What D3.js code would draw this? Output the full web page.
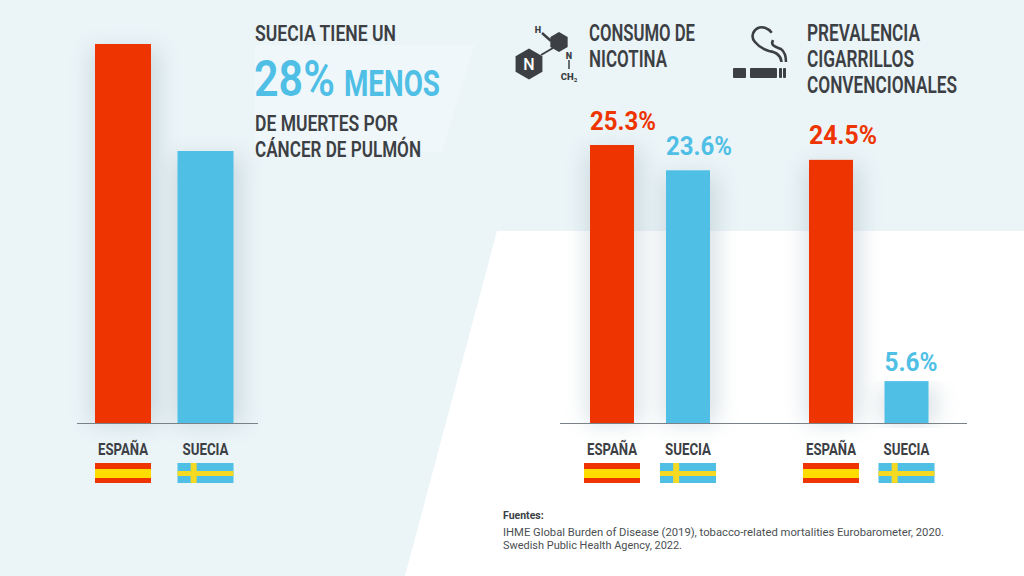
<!DOCTYPE html>
<html><head><meta charset="utf-8">
<script src="https://cdn.jsdelivr.net/npm/d3@7"></script>
<style>html,body{margin:0;padding:0;background:#ebf4f7}svg{display:block}
text{font-family:"Roboto","Liberation Sans",sans-serif}</style></head><body>
<svg id="c" width="1024" height="576"></svg>
<script>
const countries=["ESPAÑA","SUECIA"];
const lungIndex=[100,71.8];
const nicotineShown=[25.3,23.0];
const cigaretteShown=[23.95,3.85];
const nicotineLabels=["25.3%","23.6%"];
const cigaretteLabels=["24.5%","5.6%"];
const headingLung=["SUECIA TIENE UN","DE MUERTES POR","CÁNCER DE PULMÓN"];
const headingNic=["CONSUMO DE","NICOTINA"];
const headingCig=["PREVALENCIA","CIGARRILLOS","CONVENCIONALES"];
const sources=["IHME Global Burden of Disease (2019), tobacco-related mortalities Eurobarometer, 2020.","Swedish Public Health Agency, 2022."];
const RED="#ee3400",BLUE="#4fbfe6",DARK="#3c4044";
const colors=[RED,BLUE];
const svg=d3.select("#c");
const defs=svg.append("defs");
const blur=defs.append("filter").attr("id","sh").attr("x","-60%").attr("y","-15%").attr("width","220%").attr("height","125%");
blur.append("feGaussianBlur").attr("stdDeviation",11);
svg.append("rect").attr("width",1024).attr("height",576).attr("fill","#ebf4f7");
svg.append("path").attr("d","M255 45H474L442 152H255Z").attr("fill","#f0f7fa");
svg.append("path").attr("d","M497 231H1024V576H405Z").attr("fill","#fff");
const y0=423.5;
const yLeft=d3.scaleLinear().domain([0,100]).range([y0,44]);
const yRight=d3.scaleLinear().domain([0,25.3]).range([y0,145]);
function condensed(sel,w){return sel.attr("textLength",w).attr("lengthAdjust","spacingAndGlyphs");}
function flag(g,i,x,y,w){
  const h=20;
  if(i===0){
    g.append("rect").attr("x",x).attr("y",y).attr("width",w).attr("height",h).attr("fill",RED);
    g.append("rect").attr("x",x).attr("y",y+6).attr("width",w).attr("height",9).attr("fill","#ffdd00");
  }else{
    g.append("rect").attr("x",x).attr("y",y).attr("width",w).attr("height",h).attr("fill",BLUE);
    g.append("rect").attr("x",x).attr("y",y+8).attr("width",w).attr("height",5).attr("fill","#f5d922");
    g.append("rect").attr("x",x+w*0.235).attr("y",y).attr("width",6).attr("height",h).attr("fill","#f5d922");
  }
}
function panel(o){
  const g=svg.append("g");
  const x=d3.scaleOrdinal().domain(countries).range(o.xs);
  g.selectAll("rect.shadow").data(o.values).join("rect").attr("class","shadow")
    .attr("x",(d,i)=>x(countries[i])-3).attr("y",d=>o.y(d)+6).attr("width",o.w+10)
    .attr("height",d=>y0-o.y(d)-6).attr("fill","#7e9aa8").attr("opacity",.3).attr("filter","url(#sh)");
  g.selectAll("rect.bar").data(o.values).join("rect").attr("class","bar")
    .attr("x",(d,i)=>x(countries[i])).attr("y",d=>o.y(d)).attr("width",o.w)
    .attr("height",d=>y0-o.y(d)).attr("fill",(d,i)=>colors[i]);
  g.append("line").attr("x1",o.axis[0]).attr("x2",o.axis[1]).attr("y1",y0).attr("y2",y0).attr("stroke","#7b8287").attr("stroke-width",1.2);
  countries.forEach((c,i)=>{
    const cx=x(c)+o.w/2;
    condensed(g.append("text").attr("x",cx-o.labW[i]/2).attr("y",455).attr("font-size",17).attr("font-weight",700).attr("fill",DARK).text(c),o.labW[i]);
    flag(g,i,cx-28,463,56);
  });
  if(o.labels) g.selectAll("text.val").data(o.labels).join("text").attr("class","val")
    .attr("x",(d,i)=>x(countries[i])).attr("y",(d,i)=>o.y(o.values[i])-o.gap[i])
    .attr("font-size",25).attr("font-weight",700).attr("fill",(d,i)=>colors[i])
    .attr("textLength",(d,i)=>o.valW[i]).attr("lengthAdjust","spacingAndGlyphs").text(d=>d);
}
panel({xs:[95,177.5],w:56,values:lungIndex,y:yLeft,axis:[77,258],labW:[50,46]});
panel({xs:[590,666],w:44,values:nicotineShown,y:yRight,axis:[560,967],labW:[50,46],labels:nicotineLabels,valW:[66,66],gap:[15,15]});
panel({xs:[809,884.5],w:44,values:cigaretteShown,y:yRight,axis:[560,967],labW:[50,46],labels:cigaretteLabels,valW:[68,53],gap:[16,10]});
function head(lines,x,ys,ws,size){
  lines.forEach((t,i)=>condensed(svg.append("text").attr("x",x).attr("y",ys[i]).attr("font-size",size).attr("font-weight",600).attr("fill",DARK).text(t),ws[i]));
}
head(headingLung,255,[41,131,157],[141,143,166],22);
head(headingNic,589,[41,67],[106,78],23);
head(headingCig,807,[41,67,93],[113,107,150],23);
condensed(svg.append("text").attr("x",254).attr("y",96).attr("font-size",50).attr("font-weight",600).attr("fill",BLUE).text("28%"),81);
condensed(svg.append("text").attr("x",344).attr("y",96).attr("font-size",36).attr("font-weight",700).attr("fill",BLUE).text("MENOS"),96);
svg.append("text").attr("x",503).attr("y",519).attr("font-size",10.5).attr("font-weight",700).attr("fill",DARK).text("Fuentes:");
sources.forEach((t,i)=>condensed(svg.append("text").attr("x",503).attr("y",536+i*12.5).attr("font-size",10.5).attr("fill","#4b4f53").text(t),i?179:441));
// nicotine icon
const ic=svg.append("g").attr("fill",DARK).attr("stroke",DARK);
const hex=(cx,cy,r)=>d3.range(6).map(k=>{const a=Math.PI/3*k+Math.PI/6;return [cx+r*Math.cos(a),cy+r*Math.sin(a)];});
ic.append("polygon").attr("points",hex(529,64,15.5).join(" ")).attr("stroke","none");
ic.append("polygon").attr("points",hex(559,42,10).join(" ")).attr("stroke","none");
ic.append("line").attr("x1",541).attr("y1",55).attr("x2",553).attr("y2",48).attr("stroke-width",2);
ic.append("line").attr("x1",542).attr("y1",33).attr("x2",551).attr("y2",41).attr("stroke-width",2.4);
ic.append("line").attr("x1",569).attr("y1",60).attr("x2",569).attr("y2",69).attr("stroke-width",1.5);
svg.append("text").attr("x",529).attr("y",70).attr("text-anchor","middle").attr("font-size",16).attr("font-weight",500).attr("fill","#fff").text("N");
[["H",538,33,9],["N",569,59,9],["CH₃",569,80,9.5]].forEach(d=>svg.append("text").attr("x",d[1]).attr("y",d[2]).attr("text-anchor","middle").attr("font-size",d[3]).attr("font-weight",900).attr("fill",DARK).text(d[0]));
// cigarette icon
const cg=svg.append("g").attr("fill",DARK);
[[733,13],[750,27],[779,3],[783,3]].forEach(d=>cg.append("rect").attr("x",d[0]).attr("y",68).attr("width",d[1]).attr("height",10).attr("rx",1));
svg.append("path").attr("d","M771.7 32.7C768 28 762 26 758 28C752 31 751 38 755 42C759 47 763 49 769 51C776 52 781 55 781.5 62").attr("fill","none").attr("stroke",DARK).attr("stroke-width",2.6);
svg.append("path").attr("d","M773 40C770 46 776 47 781 49C785 52 786 57 786 62").attr("fill","none").attr("stroke",DARK).attr("stroke-width",2.6);
</script></body></html>
